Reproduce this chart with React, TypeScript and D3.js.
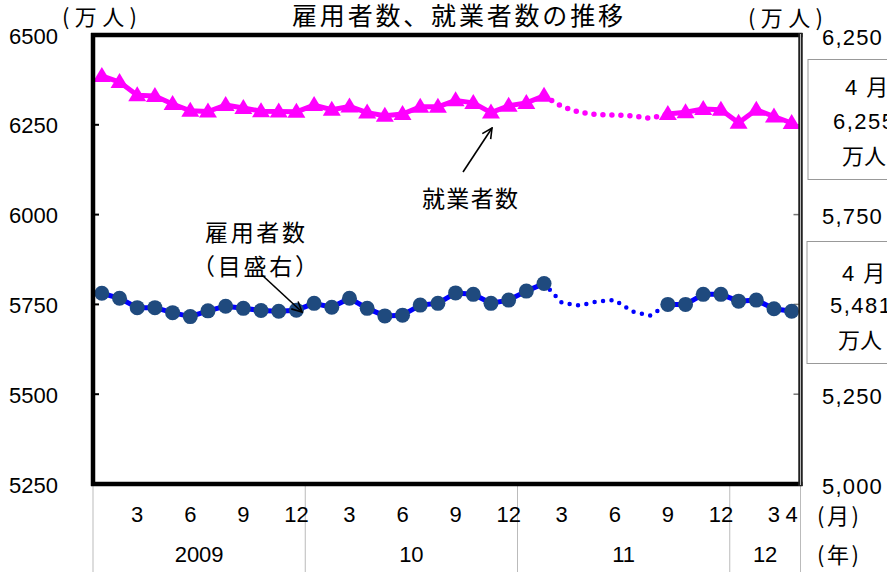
import React from 'react';
import * as d3 from 'd3';

const W = 887;
const H = 572;

// Categories: Jan 2009 .. Apr 2012 (month numbers)
const monthNumbers = [
  1, 2, 3, 4, 5, 6, 7, 8, 9, 10, 11, 12,
  1, 2, 3, 4, 5, 6, 7, 8, 9, 10, 11, 12,
  1, 2, 3, 4, 5, 6, 7, 8, 9, 10, 11, 12,
  1, 2, 3, 4,
];
const yearLabels = ['2009', '10', '11', '12'];
const yearMonthCounts = [12, 12, 12, 4];

// 就業者数 (left axis, 万人)
const employed = [
  6386, 6369, 6332, 6330, 6308, 6289, 6287, 6305, 6297, 6288, 6287, 6286,
  6305, 6292, 6301, 6284, 6275, 6280, 6300, 6300, 6318, 6311, 6284, 6303,
  6311, 6331, 6301, 6285, 6278, 6277, 6275, 6268, 6280, 6285, 6294, 6292,
  6256, 6292, 6273, 6255,
];
// 雇用者数 (right axis, 万人)
const employees = [
  5531, 5517, 5491, 5491, 5477, 5466, 5482, 5495, 5489, 5483, 5481, 5484,
  5503, 5492, 5517, 5489, 5468, 5470, 5498, 5503, 5532, 5528, 5503, 5512,
  5537, 5558, 5505, 5497, 5508, 5512, 5480, 5469, 5500, 5500, 5528, 5528,
  5509, 5512, 5488, 5481,
];
// estimated (dotted) span: from index 25 to 32
const estFrom = 25;
const estTo = 32;

const leftTicks = [5250, 5500, 5750, 6000, 6250, 6500];
const rightTicks = [5000, 5250, 5500, 5750, 6000, 6250];
// right-axis labels hidden behind the value boxes
const rightHiddenLabels = [5500, 6000];

const FONT = '"Liberation Sans", Arial, "Noto Sans CJK JP", sans-serif';
const JFONT = '"Noto Sans CJK JP", "Liberation Sans", sans-serif';

export default function App() {
  const X0 = 93, X1 = 800.5, Y0 = 35, Y1 = 484;
  const idx = d3.range(monthNumbers.length);
  const x = d3.scaleBand<number>().domain(idx).range([X0, X1]).padding(0);
  const cx = (i: number) => (x(i) as number) + x.bandwidth() / 2;
  const yL = d3.scaleLinear().domain([5250, 6500]).range([Y1, Y0]);
  const yR = d3.scaleLinear().domain([5000, 6250]).range([Y1, Y0]);
  const fmt = d3.format(',');

  const lineL = d3.line<number>().x((i) => cx(i)).y((i) => yL(employed[i]));
  const lineR = d3.line<number>().x((i) => cx(i)).y((i) => yR(employees[i]));
  const solidA = d3.range(0, estFrom + 1);
  const dotted = d3.range(estFrom, estTo + 1);
  const solidB = d3.range(estTo, monthNumbers.length);
  const markerIdx = idx.filter((i) => i <= estFrom || i >= estTo);

  // year separators
  const bounds: number[] = [X0];
  let acc = 0;
  yearMonthCounts.forEach((c) => {
    acc += c;
    bounds.push(acc >= monthNumbers.length ? X1 : (x(acc) as number));
  });

  const monthLabelIdx = idx.filter((i) => monthNumbers[i] % 3 === 0 || i === monthNumbers.length - 1);

  const tri = 'M0,-9L9,6L-9,6Z';

  return (
    <svg width={W} height={H} style={{ position: 'absolute', left: 0, top: 0, display: 'block', background: '#fff' }}>
      <defs>
        <marker id="arr" viewBox="0 0 12 12" refX="11" refY="6" markerWidth="12" markerHeight="12" markerUnits="userSpaceOnUse" orient="auto">
          <path d="M1,1L11,6L1,11" fill="none" stroke="#000" strokeWidth={1.6} />
        </marker>
      </defs>
      <rect x={0} y={0} width={W} height={H} fill="#fff" />

      {/* title */}
      <text x={457.5} y={14} textAnchor="middle" dominantBaseline="central" fontFamily={JFONT} fontSize={25} textLength={331} lengthAdjust="spacing" fill="#000">
        雇用者数、就業者数の推移
      </text>
      <text x={99.5} y={15} textAnchor="middle" dominantBaseline="central" fontFamily={JFONT} fontSize={22} textLength={75} lengthAdjust="spacing">(万人)</text>
      <text x={785.5} y={16} textAnchor="middle" dominantBaseline="central" fontFamily={JFONT} fontSize={22} textLength={75} lengthAdjust="spacing">(万人)</text>

      {/* year separators below plot */}
      {bounds.map((b, i) => (
        <line key={'sep' + i} x1={b} x2={b} y1={Y1} y2={H} stroke="#bbb" strokeWidth={1} />
      ))}

      {/* ticks */}
      {leftTicks.map((t) => (
        <g key={'lt' + t}>
          <line x1={X0} x2={X0 + 6} y1={yL(t)} y2={yL(t)} stroke="#000" strokeWidth={2} />
          <text x={58} y={yL(t) + 1} textAnchor="end" dominantBaseline="central" fontFamily={FONT} fontSize={22}>{t}</text>
        </g>
      ))}
      {rightTicks.map((t) => (
        <g key={'rt' + t}>
          <line x1={X1 - 7} x2={X1} y1={yR(t)} y2={yR(t)} stroke="#777" strokeWidth={1.5} />
          {rightHiddenLabels.indexOf(t) < 0 && (
            <text x={822} y={yR(t) + 2} textAnchor="start" dominantBaseline="central" fontFamily={FONT} fontSize={22} letterSpacing={1.2}>{fmt(t)}</text>
          )}
        </g>
      ))}

      {/* x labels */}
      {monthLabelIdx.map((i) => (
        <text key={'m' + i} x={cx(i)} y={514} textAnchor="middle" dominantBaseline="central" fontFamily={FONT} fontSize={22}>{monthNumbers[i]}</text>
      ))}
      {yearLabels.map((yl, i) => (
        <text key={'y' + i} x={(bounds[i] + bounds[i + 1]) / 2} y={554} textAnchor="middle" dominantBaseline="central" fontFamily={FONT} fontSize={22}>{yl}</text>
      ))}
      <text x={817} y={514} dominantBaseline="central" fontFamily={JFONT} fontSize={22} textLength={42} lengthAdjust="spacing">(月)</text>
      <text x={817} y={553} dominantBaseline="central" fontFamily={JFONT} fontSize={22} textLength={42} lengthAdjust="spacing">(年)</text>

      {/* employed series */}
      <path d={lineL(solidA) || ''} fill="none" stroke="#FF00FF" strokeWidth={5} strokeLinejoin="round" />
      <path d={lineL(solidB) || ''} fill="none" stroke="#FF00FF" strokeWidth={5} strokeLinejoin="round" />
      <path d={lineL(dotted) || ''} fill="none" stroke="#FF00FF" strokeWidth={5.5} strokeLinecap="round" strokeDasharray="0 9" />
      {markerIdx.map((i) => (
        <path key={'t' + i} d={tri} transform={`translate(${cx(i)},${yL(employed[i])})`} fill="#FF00FF" />
      ))}

      {/* employees series */}
      <path d={lineR(solidA) || ''} fill="none" stroke="#0000FF" strokeWidth={5} strokeLinejoin="round" />
      <path d={lineR(solidB) || ''} fill="none" stroke="#0000FF" strokeWidth={5} strokeLinejoin="round" />
      <path d={lineR(dotted) || ''} fill="none" stroke="#0000FF" strokeWidth={4.5} strokeLinecap="round" strokeDasharray="0 8.5" />
      {markerIdx.map((i) => (
        <circle key={'c' + i} cx={cx(i)} cy={yR(employees[i])} r={7.5} fill="#1F4A7E" />
      ))}

      {/* frame */}
      <line x1={X0} x2={X0} y1={Y0 - 2} y2={Y1 + 2} stroke="#000" strokeWidth={4.5} />
      <line x1={X0 - 2} x2={X1 + 2} y1={Y0} y2={Y0} stroke="#000" strokeWidth={4.5} />
      <line x1={X0 - 2} x2={X1 + 2} y1={Y1} y2={Y1} stroke="#000" strokeWidth={4.5} />
      <line x1={X1} x2={X1} y1={Y0 - 2} y2={Y1 + 2} stroke="#222" strokeWidth={4.5} />
      <line x1={X1} x2={X1} y1={Y0 - 1} y2={Y1 + 1} stroke="#bbb" strokeWidth={1} />

      {/* annotations */}
      <text x={255} y={231} textAnchor="middle" dominantBaseline="central" fontFamily={JFONT} fontSize={23} textLength={100} lengthAdjust="spacing">雇用者数</text>
      <text x={255} y={265} textAnchor="middle" dominantBaseline="central" fontFamily={JFONT} fontSize={23} textLength={126} lengthAdjust="spacing">（目盛右）</text>
      <line x1={262} y1={275} x2={302} y2={312} stroke="#000" strokeWidth={1.6} markerEnd="url(#arr)" />
      <text x={470} y={197} textAnchor="middle" dominantBaseline="central" fontFamily={JFONT} fontSize={23} textLength={96} lengthAdjust="spacing">就業者数</text>
      <line x1={463} y1={172} x2={492} y2={128} stroke="#000" strokeWidth={1.6} markerEnd="url(#arr)" />

      {/* value boxes */}
      <rect x={808} y={59.5} width={100} height={120} fill="#fff" stroke="#999" strokeWidth={1} />
      <text x={845} y={87} dominantBaseline="central" fontFamily={FONT} fontSize={22} letterSpacing={1.5}>4 月</text>
      <text x={833} y={121} dominantBaseline="central" fontFamily={FONT} fontSize={22} letterSpacing={1.5}>{fmt(employed[employed.length - 1])}</text>
      <text x={842} y={154} dominantBaseline="central" fontFamily={JFONT} fontSize={22}>万人</text>

      <rect x={807} y={241.5} width={100} height={122} fill="#fff" stroke="#999" strokeWidth={1} />
      <text x={842} y={273} dominantBaseline="central" fontFamily={FONT} fontSize={22} letterSpacing={1.5}>4 月</text>
      <text x={830} y={305} dominantBaseline="central" fontFamily={FONT} fontSize={22} letterSpacing={1.5}>{fmt(employees[employees.length - 1])}</text>
      <text x={838} y={338} dominantBaseline="central" fontFamily={JFONT} fontSize={22}>万人</text>
    </svg>
  );
}
